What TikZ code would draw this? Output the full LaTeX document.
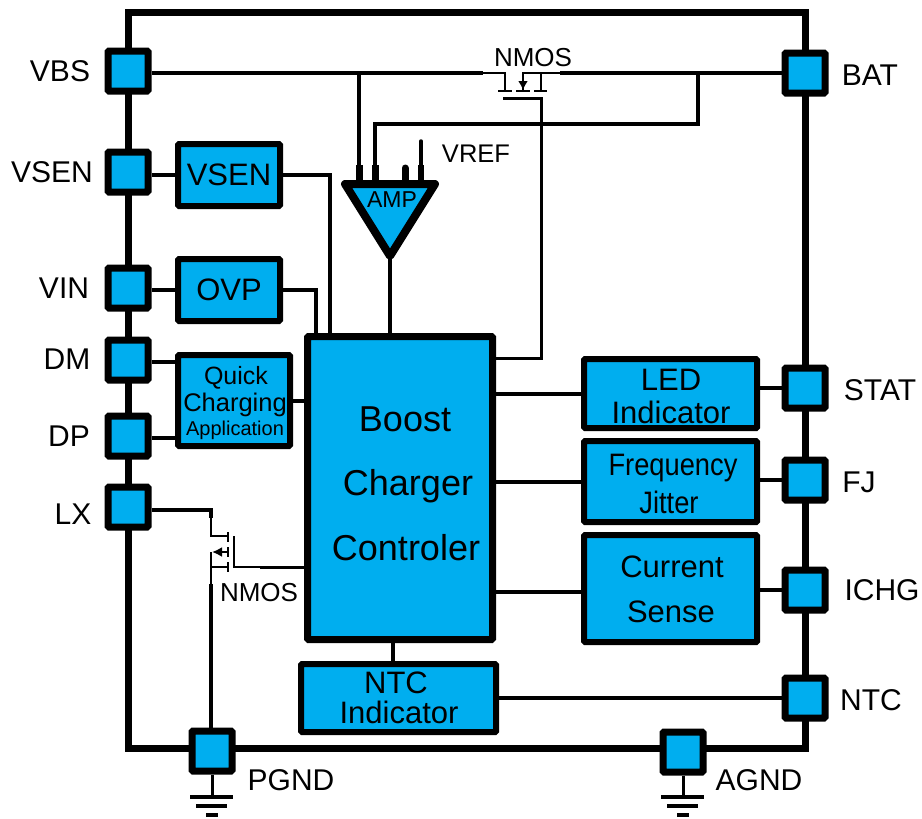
\documentclass[tikz,border=0pt]{standalone}
\usepackage{fontspec}
\setmainfont{Liberation Sans}
\usetikzlibrary{arrows.meta}
\definecolor{chipblue}{RGB}{0,174,239}
\tikzset{
  pinbox/.style={draw,line width=7pt,fill=chipblue,minimum size=40pt,inner sep=0pt,rounded corners=1pt},
  blockbox/.style={draw,line width=6pt,fill=chipblue,inner sep=0pt,align=center,rounded corners=1pt},
  pinlabel/.style={font=\fontsize{30}{32}\selectfont,inner sep=0pt},
  blocktext/.style={font=\fontsize{31}{33}\selectfont,inner sep=0pt},
  boosttext/.style={font=\fontsize{36}{38}\selectfont,inner sep=0pt},
  nmostext/.style={font=\fontsize{26}{28}\selectfont,inner sep=0pt},
  wire/.style={line width=4pt},
  thinwire/.style={line width=2pt},
  gndbar/.style={line width=4pt}
}
\begin{document}
\begin{tikzpicture}[x=1pt,y=-1pt]
  \useasboundingbox (0,0) rectangle (922,819);

  % Outer frame
  \draw[line width=7pt] (128,12) rectangle (805,748);

  % Pins, left side
  \node[pinbox] (VBSpin) at (128,71) {};
  \node[pinbox] (VSENpin) at (128,172) {};
  \node[pinbox] (VINpin) at (128,288) {};
  \node[pinbox] (DMpin) at (128,360) {};
  \node[pinbox] (DPpin) at (128,436) {};
  \node[pinbox] (LXpin) at (128,507) {};
  % Pins, right side
  \node[pinbox] (BATpin) at (805,73) {};
  \node[pinbox] (STATpin) at (805,388) {};
  \node[pinbox] (FJpin) at (805,480) {};
  \node[pinbox] (ICHGpin) at (805,590) {};
  \node[pinbox] (NTCpin) at (805,698) {};
  % Pins, bottom side
  \node[pinbox] (PGNDpin) at (212,751) {};
  \node[pinbox] (AGNDpin) at (683,752) {};

  % Pin labels
  \node[pinlabel] (VBSlabel) at (60,71) {VBS};
  \node[pinlabel] (VSENlabel) at (52,172) {VSEN};
  \node[pinlabel] (VINlabel) at (64,288) {VIN};
  \node[pinlabel] (DMlabel) at (67,359) {DM};
  \node[pinlabel] (DPlabel) at (69,436) {DP};
  \node[pinlabel] (LXlabel) at (73,514) {LX};
  \node[pinlabel] (BATlabel) at (870,75) {BAT};
  \node[pinlabel] (STATlabel) at (880,390) {STAT};
  \node[pinlabel] (FJlabel) at (859,482) {FJ};
  \node[pinlabel] (ICHGlabel) at (882,590) {ICHG};
  \node[pinlabel] (NTClabel) at (871,700) {NTC};
  \node[pinlabel] (PGNDlabel) at (291,780) {PGND};
  \node[pinlabel] (AGNDlabel) at (759,780) {AGND};

  % Function blocks
  \node[blockbox,minimum width=102pt,minimum height=62pt,font=\fontsize{31}{33}\selectfont] (VSENbox) at (229,175) {VSEN};
  \node[blockbox,minimum width=102pt,minimum height=62pt,font=\fontsize{31}{33}\selectfont] (OVPbox) at (229,290) {OVP};
  \node[blockbox,minimum width=112pt,minimum height=91pt] (QCbox) at (234,400.5) {};
  \node[blockbox,line width=7pt,minimum width=185pt,minimum height=303pt] (BOOSTbox) at (400,488) {};
  \node[blockbox,minimum width=173pt,minimum height=69pt] (LEDbox) at (670.5,393.5) {};
  \node[blockbox,minimum width=173pt,minimum height=81pt] (FREQbox) at (670.5,481.5) {};
  \node[blockbox,minimum width=173pt,minimum height=107pt] (CURbox) at (670.5,588.5) {};
  \node[blockbox,minimum width=195pt,minimum height=68pt] (NTCbox) at (398.5,698) {};

  % Block texts
  \node[font=\fontsize{25}{28}\selectfont,inner sep=0pt] (QCtextA) at (236,378) {Quick};
  \node[font=\fontsize{25.5}{28}\selectfont,inner sep=0pt] (QCtextB) at (235,405) {Charging};
  \node[font=\fontsize{20}{22}\selectfont,inner sep=0pt] (QCtextC) at (235,430) {Application};
  \node[boosttext] (BOOSTtextA) at (405,419) {Boost};
  \node[boosttext] (BOOSTtextB) at (408,486) {Charger};
  \node[boosttext] (BOOSTtextC) at (406,548) {Controler};
  \node[blocktext] (LEDtextA) at (671,380) {LED};
  \node[blocktext] (LEDtextB) at (671,412) {Indicator};
  \node[blocktext,xscale=.88] (FREQtextA) at (673,468) {Frequency};
  \node[blocktext,xscale=.88] (FREQtextB) at (669,502) {Jitter};
  \node[blocktext] (CURtextA) at (672,567) {Current};
  \node[blocktext] (CURtextB) at (671,612) {Sense};
  \node[blocktext] (NTCtextA) at (396,683) {NTC};
  \node[blocktext] (NTCtextB) at (399,712) {Indicator};

  % Wires from pins to blocks
  \draw[wire] (VSENpin.east |- VSENbox.west) -- (VSENbox.west);
  \draw[wire] (VINpin.east |- OVPbox.west) -- (OVPbox.west);
  \draw[wire] (DMpin.east |- 0,362) -- (QCbox.west |- 0,362);
  \draw[wire] (DPpin.east |- 0,438) -- (QCbox.west |- 0,438);
  \draw[wire] (VSENbox.east) -- (330,175) -- (BOOSTbox.north -| 330,0);
  \draw[wire] (OVPbox.east) -- (316,290) -- (BOOSTbox.north -| 316,0);
  \draw[wire] (QCbox.east) -- (BOOSTbox.west |- QCbox.east);
  \draw[wire] (BOOSTbox.east |- LEDbox.west) -- (LEDbox.west);
  \draw[wire] (BOOSTbox.east |- FREQbox.west) -- (FREQbox.west);
  \draw[wire] (BOOSTbox.east |- 0,592) -- (CURbox.west |- 0,592);
  \draw[wire] (LEDbox.east |- STATpin.west) -- (STATpin.west);
  \draw[wire] (FREQbox.east |- FJpin.west) -- (FJpin.west);
  \draw[wire] (CURbox.east |- ICHGpin.west) -- (ICHGpin.west);
  \draw[wire] (NTCbox.east |- NTCpin.west) -- (NTCpin.west);
  \draw[wire] (BOOSTbox.south -| 393,0) -- (NTCbox.north -| 393,0);

  % Top NMOS switch
  \coordinate (topD) at (505,73);
  \coordinate (topS) at (523,73);
  \draw[wire] (VBSpin.east |- topD) -- (483,73);
  \draw[thinwire] (483,73) -- (topD) -- (505,91);
  \draw[wire] (560,73) -- (BATpin.west);
  \draw[thinwire] (560,73) -- (topS) -- (523,91);
  \draw[thinwire] (541,73) -- (541,91);
  \draw[-{Latex[length=9pt,width=10pt]},thinwire] (523,76) -- (523,90);
  \draw[line width=2.5pt] (498,91) -- (512,91) (516,91) -- (530,91) (534,91) -- (547,91);
  \draw[line width=3pt] (503,98) -- (541,98) -- (541,358) -- (BOOSTbox.east |- 541,358);
  \node[nmostext] (topNMOS) at (533,58) {NMOS};

  % Amplifier
  \draw[wire] (359,73) -- (359,180);
  \draw[wire] (698,73) -- (698,124) -- (375,124) -- (375,180);
  \draw[line width=7pt] (359,165) -- (359,184) (375,165) -- (375,184);
  \draw[line width=7pt,line cap=round] (405,168) -- (405,184);
  \draw[line width=3.5pt,line cap=round] (421,141) -- (421,170);
  \draw[line width=6pt] (421,165) -- (421,184);
  \draw[line width=8pt,line join=round,fill=chipblue] (345,184) -- (435,184) -- (390,256) -- cycle;
  \node[font=\fontsize{23}{25}\selectfont,inner sep=0pt] (AMPlabel) at (392,200) {AMP};
  \node[font=\fontsize{25.5}{27}\selectfont,inner sep=0pt] (VREFlabel) at (476,154) {VREF};
  \draw[wire] (390,256) -- (BOOSTbox.north -| 390,0);

  % Bottom NMOS switch
  \draw[wire] (LXpin.east |- 0,510) -- (211,510) -- (211,518);
  \draw[thinwire] (211,518) -- (211,536) -- (228,536);
  \draw[thinwire] (211,552) -- (211,584) (211,567) -- (228,567);
  \draw[thinwire,-{Latex[length=10pt,width=10pt]}] (228,552) -- (212,552);
  \draw[line width=2.5pt] (228,532) -- (228,542) (228,547) -- (228,557) (228,562) -- (228,572);
  \draw[thinwire] (234,536) -- (234,567) -- (260,567);
  \draw[line width=3pt] (260,567) -- (BOOSTbox.west |- 260,567);
  \draw[wire] (211,584) -- (PGNDpin.north -| 211,0);
  \node[nmostext] (botNMOS) at (259,593) {NMOS};

  % Ground symbols
  \draw[line width=3pt] (PGNDpin.south) -- (212,797);
  \draw[gndbar] (190,797) -- (233,797) (196,806) -- (227,806) (206,815) -- (218,815);
  \draw[line width=3pt] (AGNDpin.south) -- (683,797);
  \draw[gndbar] (661,797) -- (704,797) (667,806) -- (698,806) (677,815) -- (689,815);
\end{tikzpicture}
\end{document}
